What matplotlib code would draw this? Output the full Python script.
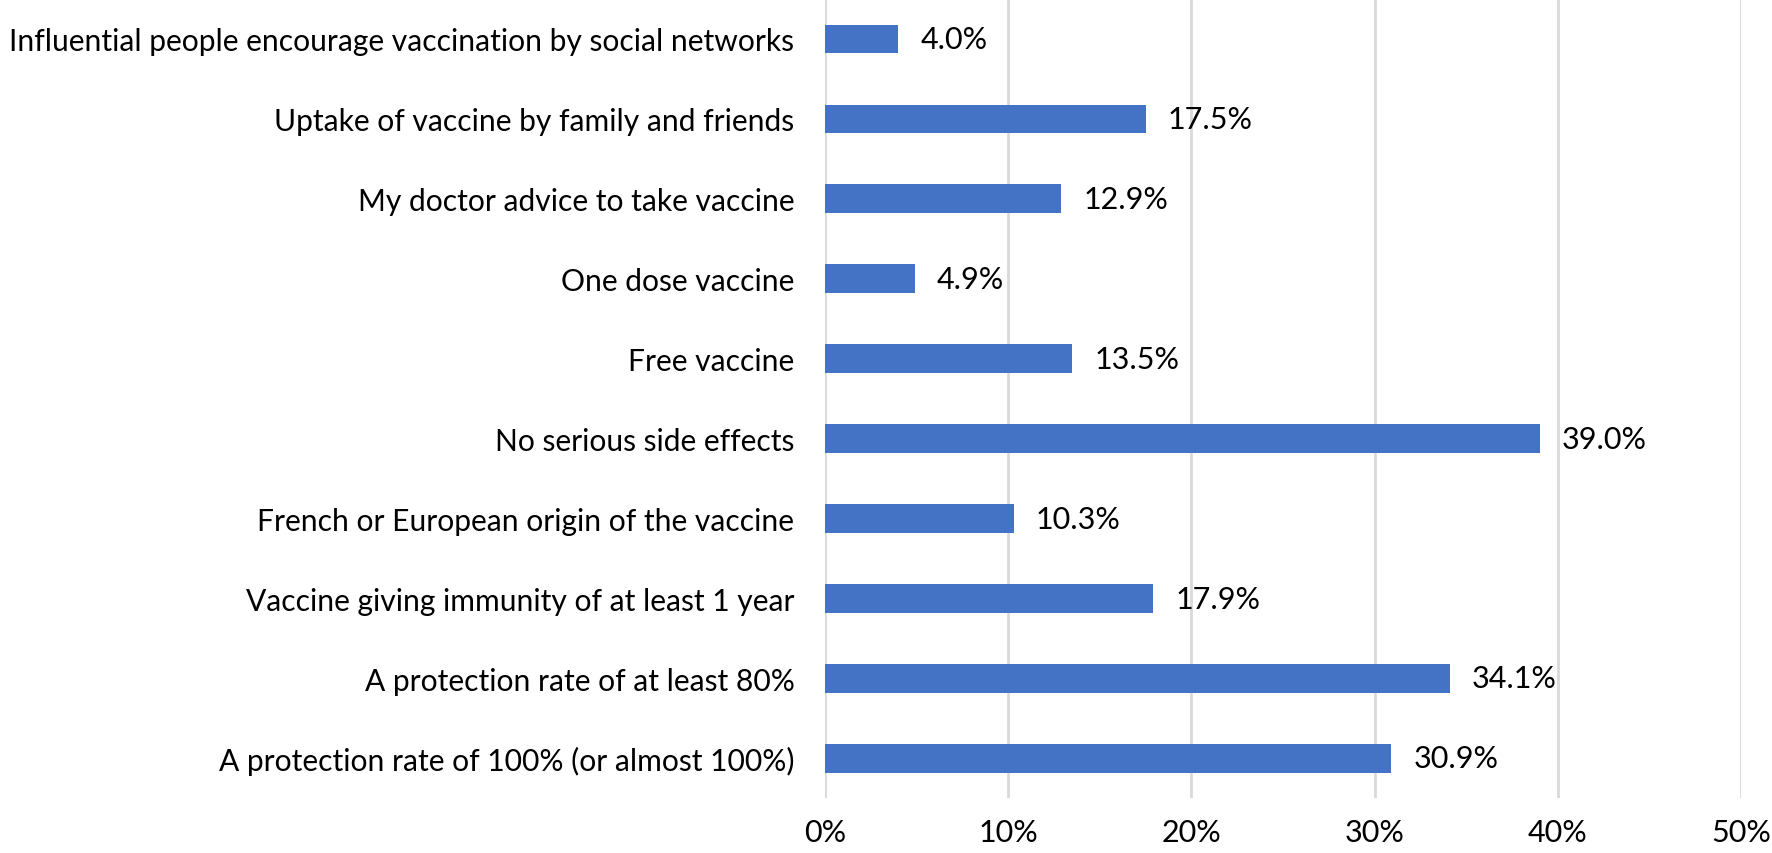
import matplotlib
matplotlib.use("Agg")
import matplotlib.pyplot as plt
from matplotlib.ticker import PercentFormatter

# categories top to bottom
categories = [
    "Influential people encourage vaccination by social networks",
    "Uptake of vaccine by family and friends",
    "My doctor advice to take vaccine",
    "One dose vaccine",
    "Free vaccine",
    "No serious side effects",
    "French or European origin of the vaccine",
    "Vaccine giving immunity of at least 1 year",
    "A protection rate of at least 80%",
    "A protection rate of 100% (or almost 100%)",
]
values = [4.0, 17.5, 12.9, 4.9, 13.5, 39.0, 10.3, 17.9, 34.1, 30.9]
x_ticks = [0, 10, 20, 30, 40, 50]

plt.rcParams['font.family'] = ['Lato', 'DejaVu Sans']

fig = plt.figure(figsize=(17.72, 8.54), dpi=100)
ax = fig.add_axes([0.4656, 0.064, 0.517, 0.936])

pos = list(range(len(categories)))
ax.barh(pos, values, height=0.36, color='#4472C4', zorder=3)
for p, v in zip(pos, values):
    ax.annotate(f"{v:.1f}%", (v, p), xytext=(16, 0), textcoords='offset points',
                va='center', ha='left', fontsize=22)

ax.set_ylim(len(categories) - 0.5, -0.5)
ax.set_yticks(pos)
ax.set_yticklabels(categories, fontsize=21.6)
ax.set_xlim(0, 50)
ax.set_xticks(x_ticks)
ax.xaxis.set_major_formatter(PercentFormatter(decimals=0))
ax.tick_params(axis='x', labelsize=22, length=0, pad=14)
ax.tick_params(axis='y', length=0, pad=22)
ax.grid(axis='x', color='#D9D9D9', linewidth=2, zorder=0)
for s in ax.spines.values():
    s.set_visible(False)

fig.savefig('out.png', dpi=100)
